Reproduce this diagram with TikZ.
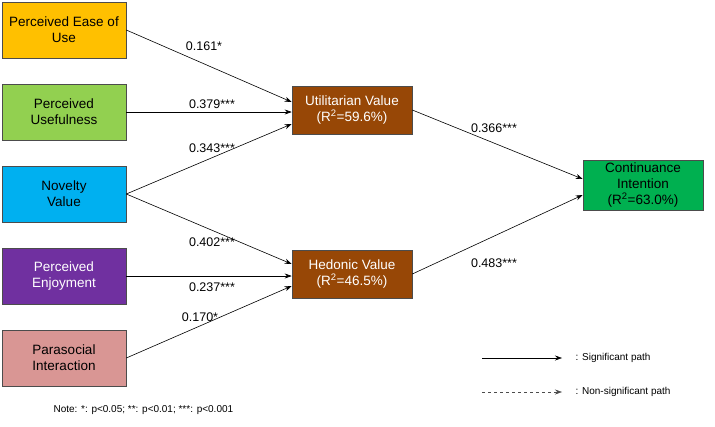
\documentclass[tikz,border=0pt]{standalone}
\usepackage{fontspec}
\setmainfont{Liberation Sans}
\usetikzlibrary{arrows.meta}
\begin{document}
\begin{tikzpicture}[x=1pt,y=-1pt,
 box/.style={draw=black!70,line width=0.6pt,minimum width=124pt,minimum height=56pt,align=center,font=\fontsize{13.5}{16}\selectfont,inner sep=1pt},
 mid/.style={box,minimum width=120pt,minimum height=48pt},
 arr/.style={-{Stealth[length=7pt,width=5pt]},line width=0.6pt},
 lab/.style={font=\fontsize{12.5}{14}\selectfont}]
\useasboundingbox (0,0) rectangle (715,426);
\node[box,fill={rgb,255:red,255;green,192;blue,0}] (a) at (64,30) {Perceived Ease of\\Use};
\node[box,fill={rgb,255:red,146;green,208;blue,80}] (b) at (64,112) {Perceived\\Usefulness};
\node[box,fill={rgb,255:red,0;green,176;blue,240}] (c) at (64,194) {Novelty\\Value};
\node[box,fill={rgb,255:red,112;green,48;blue,160},text=white] (d) at (64,276) {Perceived\\Enjoyment};
\node[box,fill={rgb,255:red,217;green,150;blue,148}] (e) at (64,358) {Parasocial\\Interaction};
\node[mid,fill={rgb,255:red,151;green,71;blue,6},text=white] (u) at (352,110) {Utilitarian Value\\(R\textsuperscript{2}=59.6\%)};
\node[mid,fill={rgb,255:red,151;green,71;blue,6},text=white] (h) at (352,274) {Hedonic Value\\(R\textsuperscript{2}=46.5\%)};
\node[mid,minimum height=50pt,fill={rgb,255:red,0;green,176;blue,80}] (ci) at (643,185) {Continuance\\Intention\\(R\textsuperscript{2}=63.0\%)};
\draw[arr] (a.east) -- ([yshift=8pt]u.west);
\draw[arr] (b.east) -- ([yshift=-2pt]u.west);
\draw[arr] (c.east) -- ([yshift=-14pt]u.west);
\draw[arr] (c.east) -- ([yshift=10pt]h.west);
\draw[arr] (d.east) -- ([yshift=-2pt]h.west);
\draw[arr] (e.east) -- ([yshift=-12pt]h.west);
\draw[arr] (u.east) -- ([yshift=6pt]ci.west);
\draw[arr] (h.east) -- ([yshift=-10pt]ci.west);
\node[lab] (t1) at (204,46) {0.161*};
\node[lab] (t2) at (212,104) {0.379***};
\node[lab] (t3) at (212,148) {0.343***};
\node[lab] (t4) at (212,242) {0.402***};
\node[lab] (t5) at (212,287) {0.237***};
\node[lab] (t6) at (200,317) {0.170*};
\node[lab] (t7) at (494,128) {0.366***};
\node[lab] (t8) at (494,263) {0.483***};
\coordinate (l1) at (482,358); \coordinate (l2) at (562,358);
\coordinate (l3) at (482,392); \coordinate (l4) at (562,392);
\draw[arr] (l1) -- (l2) node[right=10pt,font=\fontsize{10}{12}\selectfont]{: Significant path};
\draw[arr,dashed,draw=black!70] (l3) -- (l4) node[right=10pt,font=\fontsize{10}{12}\selectfont]{: Non-significant path};
\node[font=\fontsize{10}{12}\selectfont,anchor=west] (n) at (50,410) {Note: *: p<0.05; **: p<0.01; ***: p<0.001};
\end{tikzpicture}
\end{document}
